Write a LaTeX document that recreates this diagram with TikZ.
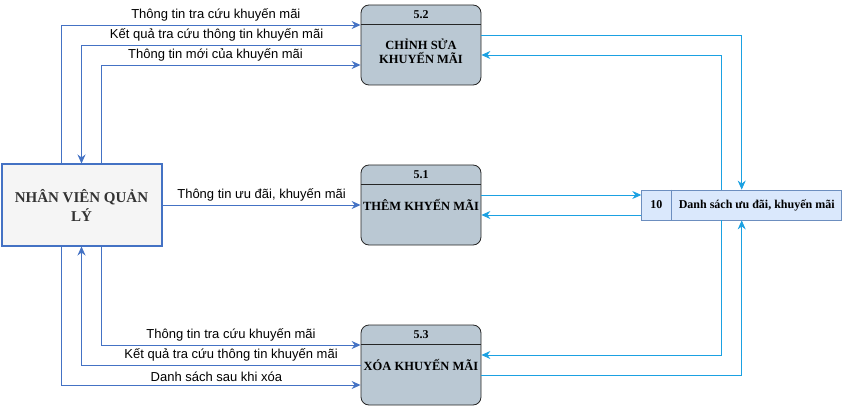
\documentclass[tikz,border=0pt]{standalone}
\usepackage{fontspec}
\setmainfont{Liberation Serif}
\newfontfamily\nhanfont{Liberation Sans}
\usetikzlibrary{positioning}
\usetikzlibrary{arrows.meta}
\usetikzlibrary{calc}

\definecolor{xanhduong}{HTML}{4472C4}
\definecolor{xanhnhat}{HTML}{1BA1E2}
\definecolor{tientrinhnen}{HTML}{BAC8D3}
\definecolor{khonen}{HTML}{DAE8FC}
\definecolor{khovien}{HTML}{6C8EBF}
\definecolor{tacnhannen}{HTML}{F5F5F5}
\definecolor{chuxam}{HTML}{333333}

\begin{document}
\begin{tikzpicture}[x=1pt, y=-1pt,
	tacnhan/.style={draw=xanhduong, line width=2pt, fill=tacnhannen, minimum width=160pt, minimum height=81pt, align=center, text=chuxam, font=\fontsize{15}{19}\selectfont\bfseries},
	tientrinh/.style={draw=black!85, line width=0.8pt, fill=tientrinhnen, rounded corners=8pt, minimum width=120pt, minimum height=80pt},
	tieude/.style={font=\fontsize{12}{14}\selectfont\bfseries, inner sep=0pt},
	noidung/.style={align=center, font=\fontsize{12.5}{13.5}\selectfont\bfseries, inner sep=0pt},
	kho/.style={draw=khovien, line width=0.8pt, fill=khonen, minimum width=200pt, minimum height=30pt},
	khochu/.style={font=\fontsize{12}{13}\selectfont\bfseries, inner sep=0pt},
	luong/.style={draw=xanhduong, line width=0.9pt, -{Stealth[length=9pt, width=8pt, inset=3pt]}},
	luu/.style={draw=xanhnhat, line width=0.8pt, -{Stealth[length=9pt, width=8pt, inset=3pt]}},
	nhan/.style={font=\nhanfont\fontsize{13}{15}\selectfont, above, inner sep=3pt}]
	\useasboundingbox (0,0) rectangle (842,406);

	% Tac nhan va tien trinh
	\node[tacnhan] (nv) at (81.5,205) {NHÂN VIÊN QUẢN\\LÝ};
	\node[tientrinh] (p52) at (421,45) {};
	\node[tientrinh] (p51) at (421,205) {};
	\node[tientrinh] (p53) at (421,365) {};

	\foreach \ten/\so in {p52/5.2, p51/5.1, p53/5.3} {
		\node[tieude] (\ten-so) at ([yshift=-10pt]\ten.north) {\so};
		\draw[draw=black!85, line width=0.8pt] ([yshift=-20pt]\ten.north west) -- ([yshift=-20pt]\ten.north east);
	}

	\node[noidung] (p52-chu) at ([yshift=-6pt]p52.center) {CHỈNH SỬA\\KHUYẾN MÃI};
	\node[noidung] (p51-chu) at (p51.center) {THÊM KHYẾN MÃI};
	\node[noidung] (p53-chu) at (p53.center) {XÓA KHUYẾN MÃI};

	% Kho du lieu
	\node[kho] (kho) at (741.7,205) {};
	\draw[draw=khovien, line width=0.8pt] ([xshift=30pt]kho.north west) -- ([xshift=30pt]kho.south west);
	\node[khochu] (kho-so) at ([xshift=15pt]kho.west) {10};
	\node[khochu] (kho-ten) at ([xshift=15pt]kho.center) {Danh sách ưu đãi, khuyến mãi};

	% Luong voi 5.2
	\draw[luong] ([xshift=-20pt]nv.north) |- node[nhan, pos=0.758] {Thông tin tra cứu khuyến mãi} ([yshift=20pt]p52.west);
	\draw[luong] (p52.west) -| node[nhan, pos=0.258] {Kết quả tra cứu thông tin khuyến mãi} (nv.north);
	\draw[luong] ([xshift=20pt]nv.north) |- node[nhan, pos=0.72] {Thông tin mới của khuyến mãi} ([yshift=-20pt]p52.west);

	% Luong voi 5.1
	\draw[luong] (nv.east) -- node[nhan, midway] {Thông tin ưu đãi, khuyến mãi} (p51.west);

	% Luong voi 5.3
	\draw[luong] ([xshift=20pt]nv.south) |- node[nhan, pos=0.75] {Thông tin tra cứu khuyến mãi} ([yshift=20pt]p53.west);
	\draw[luong] (p53.west) -| node[nhan, pos=0.232] {Kết quả tra cứu thông tin khuyến mãi} (nv.south);
	\draw[luong] ([xshift=-20pt]nv.south) |- node[nhan, pos=0.759] {Danh sách sau khi xóa} ([yshift=-20pt]p53.west);

	% Luong voi kho
	\draw[luu] ([yshift=10pt]p52.east) -| (kho.north);
	\draw[luu] ([xshift=-20pt]kho.north) |- ([yshift=-10pt]p52.east);
	\draw[luu] ([yshift=10pt]p51.east) -- ([yshift=10pt]kho.west);
	\draw[luu] ([yshift=-10pt]kho.west) -- ([yshift=-10pt]p51.east);
	\draw[luu] ([xshift=-20pt]kho.south) |- ([yshift=10pt]p53.east);
	\draw[luu] ([yshift=-10pt]p53.east) -| (kho.south);
\end{tikzpicture}
\end{document}
